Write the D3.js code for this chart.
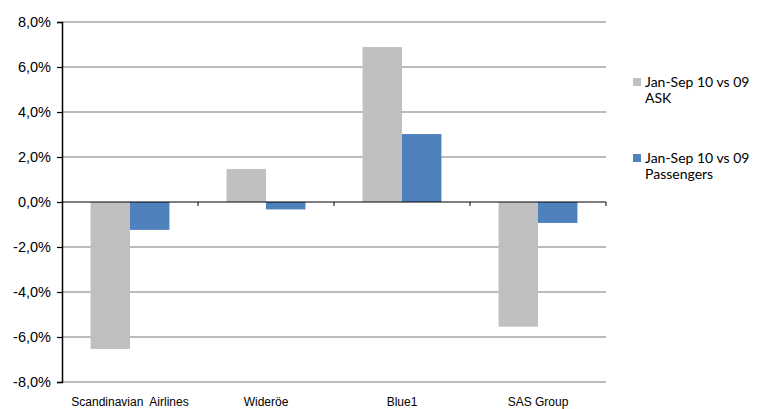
<!DOCTYPE html>
<html>
<head>
<meta charset="utf-8">
<script src="https://cdn.jsdelivr.net/npm/d3@7"></script>
<style>
  body { margin: 0; background: #fff; }
  svg { display: block; }
</style>
</head>
<body>
<div id="chart"></div>
<script>
const categories = ['Scandinavian  Airlines', 'Wideröe', 'Blue1', 'SAS Group'];
const seriesNames = [['Jan-Sep 10 vs 09', 'ASK'], ['Jan-Sep 10 vs 09', 'Passengers']];
const askValues = [-6.53, 1.47, 6.89, -5.54];
const passengerValues = [-1.24, -0.33, 3.02, -0.93];
const yTicks = [-8, -6, -4, -2, 0, 2, 4, 6, 8];
const colors = ['#c0c0c0', '#4f81bd'];

const W = 761, H = 409;
const margin = { top: 22, right: 155, bottom: 27, left: 62 };

const svg = d3.select('#chart').append('svg')
  .attr('width', W).attr('height', H);

const x0 = d3.scaleBand()
  .domain(categories)
  .range([margin.left, W - margin.right])
  .paddingInner(0.42)
  .paddingOuter(0.21);

const x1 = d3.scaleBand()
  .domain([0, 1])
  .range([0, x0.bandwidth()]);

const y = d3.scaleLinear()
  .domain([-8, 8])
  .range([H - margin.bottom, margin.top]);

// gridlines
svg.append('g')
  .selectAll('line')
  .data(yTicks.filter(d => d !== 0))
  .join('line')
  .attr('x1', margin.left).attr('x2', W - margin.right)
  .attr('y1', d => y(d)).attr('y2', d => y(d))
  .attr('stroke', '#a6a6a6')
  .attr('stroke-width', 1.5);

// bars
const rows = categories.map((c, i) => ({ cat: c, vals: [askValues[i], passengerValues[i]] }));
const groups = svg.append('g')
  .selectAll('g')
  .data(rows)
  .join('g')
  .attr('transform', d => `translate(${x0(d.cat)},0)`);

groups.selectAll('rect')
  .data(d => d.vals.map((v, s) => ({ v, s })))
  .join('rect')
  .attr('x', d => x1(d.s))
  .attr('width', x1.bandwidth())
  .attr('y', d => y(Math.max(0, d.v)))
  .attr('height', d => Math.abs(y(d.v) - y(0)))
  .attr('fill', d => colors[d.s]);

// zero line with category ticks
svg.append('line')
  .attr('x1', margin.left).attr('x2', W - margin.right)
  .attr('y1', y(0)).attr('y2', y(0))
  .attr('stroke', '#000').attr('stroke-width', 1.2);

svg.append('g')
  .selectAll('line')
  .data(categories)
  .join('line')
  .attr('x1', d => x0(d) + x0.bandwidth() + x0.step() * 0.21)
  .attr('x2', d => x0(d) + x0.bandwidth() + x0.step() * 0.21)
  .attr('y1', y(0)).attr('y2', y(0) + 4)
  .attr('stroke', '#000').attr('stroke-width', 1);

// category labels
svg.append('g')
  .selectAll('text')
  .data(categories)
  .join('text')
  .attr('x', d => x0(d) + x0.bandwidth() / 2)
  .attr('y', H - 3)
  .attr('text-anchor', 'middle')
  .attr('font-family', 'Liberation Sans, Arial, sans-serif')
  .attr('font-size', 12)
  .attr('fill', '#000')
  .style('white-space', 'pre')
  .text(d => d);

// y axis
const yAxis = svg.append('g')
  .attr('transform', `translate(${margin.left},0)`)
  .call(d3.axisLeft(y).tickValues(yTicks).tickSize(5).tickPadding(6)
    .tickFormat(d => (d < 0 ? '-' : '') + d3.format('.1f')(Math.abs(d)).replace('.', ',') + '%'));
yAxis.select('.domain').attr('stroke', '#000').attr('stroke-width', 1.5);
yAxis.selectAll('.tick line').attr('stroke', '#000').attr('stroke-width', 1.2);
yAxis.selectAll('.tick text')
  .attr('font-family', 'Liberation Sans, Arial, sans-serif')
  .attr('font-size', 14.5)
  .attr('fill', '#000');

// legend
const legend = svg.append('g')
  .selectAll('g')
  .data(seriesNames)
  .join('g')
  .attr('transform', (d, i) => `translate(633,${78 + i * 76})`);

legend.append('rect')
  .attr('width', 8).attr('height', 8)
  .attr('fill', (d, i) => colors[i]);

legend.append('text')
  .attr('font-family', 'Lato, sans-serif')
  .attr('font-size', 14)
  .attr('fill', '#000')
  .selectAll('tspan')
  .data(d => d)
  .join('tspan')
  .attr('x', 12)
  .attr('y', (d, i) => 8.5 + i * 16)
  .text(d => d);
</script>
</body>
</html>
